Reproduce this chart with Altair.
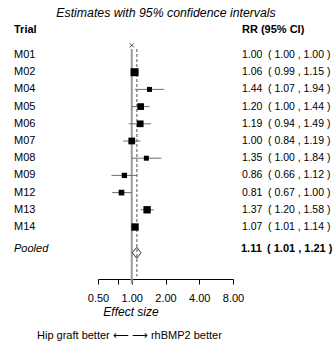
import altair as alt
import pandas as pd

# Study-level risk ratios with 95% confidence limits
trials = ["M01", "M02", "M04", "M05", "M06", "M07", "M08", "M09", "M12", "M13", "M14"]
rr = [1.00, 1.06, 1.44, 1.20, 1.19, 1.00, 1.35, 0.86, 0.81, 1.37, 1.07]
lower = [1.00, 0.99, 1.07, 1.00, 0.94, 0.84, 1.00, 0.66, 0.67, 1.20, 1.01]
upper = [1.00, 1.15, 1.94, 1.44, 1.49, 1.19, 1.84, 1.12, 1.00, 1.58, 1.14]
# relative study weights (box area)
weights = [0, 64, 25, 45, 45, 45, 25, 28, 32, 54, 54]

pooled_label = "Pooled"
pooled_rr = 1.11
pooled_lower = 1.01
pooled_upper = 1.21

tick_values = [0.5, 0.75, 1, 2, 4, 8]

FONT = "Liberation Sans"
SPACER = " "
row_order = trials + [SPACER, pooled_label]

studies = pd.DataFrame({"trial": trials, "rr": rr, "lo": lower, "hi": upper, "w": weights})
studies["rr_txt"] = studies["rr"].map(lambda v: f"{v:.2f}")
studies["ci_txt"] = [f"( {a:.2f} , {b:.2f} )" for a, b in zip(lower, upper)]

pooled = pd.DataFrame({
    "trial": [pooled_label], "rr": [pooled_rr], "lo": [pooled_lower], "hi": [pooled_upper],
    "rr_txt": [f"{pooled_rr:.2f}"], "ci_txt": [f"( {pooled_lower:.2f} , {pooled_upper:.2f} )"],
})

# diamond outline for the pooled estimate
diamond = pd.DataFrame({
    "trial": [pooled_label] * 5,
    "x": [pooled_lower, pooled_rr, pooled_upper, pooled_rr, pooled_lower],
    "dy": [0, -5.5, 0, 5.5, 0],
    "k": [0, 1, 2, 3, 4],
})

xscale = alt.Scale(type="log", base=2, domain=[0.5, 8], nice=False)
yenc = alt.Y("trial:N", scale=alt.Scale(domain=row_order, paddingInner=0, paddingOuter=0), axis=None)
POOL_DY = -3.5

x_axis = alt.Axis(
    values=tick_values,
    labelExpr="datum.value == 0.75 ? '' : format(datum.value, '.2f')",
    grid=False, title=None, offset=9,
    domainColor="black", tickColor="black", tickSize=5, tickWidth=1, domainWidth=1,
    labelFont=FONT, labelFontSize=11, labelColor="black", labelPadding=8,
    labelFlush=False, labelOverlap=False,
)

ref_line = alt.Chart(pd.DataFrame({"v": [1.0]})).mark_rule(
    color="#9a9a9a", strokeWidth=2
).encode(x=alt.X("v:Q", scale=xscale, axis=x_axis), y=alt.value(2.6), y2=alt.value(237))

pooled_line = alt.Chart(pd.DataFrame({"v": [pooled_rr]})).mark_rule(
    color="#8c8c8c", strokeWidth=1.5, strokeDash=[3, 2]
).encode(x=alt.X("v:Q", scale=xscale), y=alt.value(2.6), y2=alt.value(230))

ci = alt.Chart(studies[studies["lo"] < studies["hi"]]).mark_rule(
    color="#6e6e6e", strokeWidth=1
).encode(x=alt.X("lo:Q", scale=xscale), x2="hi:Q", y=yenc)

boxes = alt.Chart(studies[studies["w"] > 0]).mark_square(
    color="black", opacity=1
).encode(
    x=alt.X("rr:Q", scale=xscale), y=yenc,
    size=alt.Size("w:Q", scale=alt.Scale(domain=[0, 64], range=[0, 64]), legend=None),
)

no_ci = alt.Chart(studies[studies["lo"] >= studies["hi"]]).mark_point(
    shape="M-1,-1L1,1M-1,1L1,-1", size=16, filled=False, color="#444", strokeWidth=1, opacity=1
).encode(x=alt.X("rr:Q", scale=xscale), y=yenc, yOffset=alt.value(-1))

dia = alt.Chart(diamond).mark_line(color="#333", strokeWidth=1).encode(
    x=alt.X("x:Q", scale=xscale), y=yenc,
    yOffset=alt.YOffset("dy:Q", scale=None), order="k:Q",
)

LEFT = -84
RR_X = 144
CI_X = 170

labels = alt.Chart(studies).mark_text(
    align="left", baseline="middle", font=FONT, fontSize=11, color="black"
).encode(x=alt.value(LEFT), y=yenc, text="trial:N")

rr_col = alt.Chart(studies).mark_text(
    align="left", baseline="middle", font=FONT, fontSize=10.5, color="black"
).encode(x=alt.value(RR_X), y=yenc, text="rr_txt:N")

ci_col = alt.Chart(studies).mark_text(
    align="left", baseline="middle", font=FONT, fontSize=10.5, color="black"
).encode(x=alt.value(CI_X), y=yenc, text="ci_txt:N")

pool_label = alt.Chart(pooled).mark_text(
    align="left", baseline="middle", font=FONT, fontSize=11, fontStyle="italic", color="black"
).encode(x=alt.value(LEFT), y=yenc, yOffset=alt.value(POOL_DY), text="trial:N")

pool_rr = alt.Chart(pooled).mark_text(
    align="left", baseline="middle", font=FONT, fontSize=11, fontWeight="bold", color="black"
).encode(x=alt.value(RR_X - 1), y=yenc, yOffset=alt.value(POOL_DY), text="rr_txt:N")

pool_ci = alt.Chart(pooled).mark_text(
    align="left", baseline="middle", font=FONT, fontSize=11, fontWeight="bold", color="black"
).encode(x=alt.value(CI_X - 1), y=yenc, yOffset=alt.value(POOL_DY), text="ci_txt:N")


def note(text, x, y, align="left", size=11, weight="normal", style="normal"):
    return alt.Chart(pd.DataFrame({"t": [text]})).mark_text(
        align=align, baseline="middle", font=FONT, fontSize=size,
        fontWeight=weight, fontStyle=style, color="black",
    ).encode(x=alt.value(x), y=alt.value(y), text="t:N")


title = note("Estimates with 95% confidence intervals", 68, -33, align="center", size=12.3, style="italic")
head_trial = note("Trial", LEFT, -16.4, weight="bold")
head_rr = note("RR (95% CI)", RR_X, -16.4, weight="bold")
axis_title = note("Effect size", 33, 265.6, align="center", size=12, style="italic")
footer = note("Hip graft better \u27f5 \u27f6 rhBMP2 better", -61, 289.5)

chart = alt.layer(
    ref_line, pooled_line, ci, boxes, no_ci, dia,
    labels, rr_col, ci_col, pool_label, pool_rr, pool_ci,
    title, head_trial, head_rr, axis_title, footer,
).properties(
    width=135, height=223.6,
    autosize=alt.AutoSizeParams(type="none"),
    padding={"left": 98, "top": 46.4, "right": 101, "bottom": 75},
    background="white",
).configure_view(stroke=None)

chart.save("out.html", embed_options={"renderer": "svg", "actions": False})
